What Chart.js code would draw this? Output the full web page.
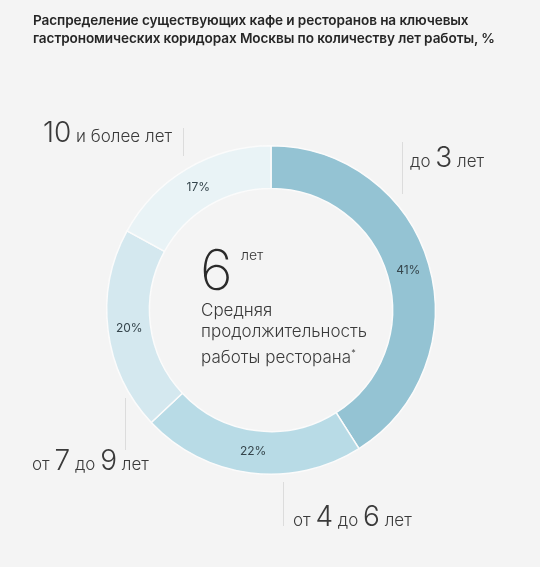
<!DOCTYPE html>
<html lang="ru">
<head>
<meta charset="utf-8">
<script src="https://cdn.jsdelivr.net/npm/chart.js@4"></script>
<style>
    html, body { margin: 0; padding: 0; background: #f4f4f4; }
    body { width: 540px; height: 567px; position: relative; overflow: hidden; font-family: Inter, "Open Sans", sans-serif; color: #333; }
    #wrap { position: absolute; left: 0; top: 0; width: 540px; height: 567px; }
    .title { position: absolute; left: 33px; top: 11px; font-size: 13.6px; font-weight: 600; line-height: 18px; color: #262626; letter-spacing: -0.1px; }
    .lbl { position: absolute; font-weight: 300; font-size: 17px; color: #3a3a3a; white-space: nowrap; }
    .lbl b { font-weight: 300; font-size: 28px; }
    .tick { position: absolute; width: 1px; background: #dcdcdc; }
    .big { position: absolute; left: 200px; top: 242px; font-size: 56px; font-weight: 200; color: #2a2a2a; line-height: 56px; }
    .unit { position: absolute; left: 241px; top: 246px; font-size: 14px; font-weight: 300; color: #333; }
    .sub { position: absolute; left: 201px; top: 300px; font-size: 17px; font-weight: 300; line-height: 21px; color: #3a3a3a; }
</style>
</head>
<body>
<div id="wrap"><canvas id="donut" width="540" height="567"></canvas></div>

<div class="title">Распределение существующих кафе и ресторанов на ключевых<br>гастрономических коридорах Москвы по количеству лет работы, %</div>

<div class="tick" style="left:183px; top:128px; height:28px;"></div>
<div class="lbl" style="left:43px; top:115px;"><b>10</b> и более лет</div>

<div class="tick" style="left:402px; top:142px; height:52px;"></div>
<div class="lbl" style="left:410px; top:140px;">до <b>3</b> лет</div>

<div class="tick" style="left:125px; top:398px; height:52px;"></div>
<div class="lbl" style="left:32px; top:443px;">от <b>7</b> до <b>9</b> лет</div>

<div class="tick" style="left:283px; top:482px; height:44px;"></div>
<div class="lbl" style="left:293px; top:499px;">от <b>4</b> до <b>6</b> лет</div>

<div class="big">6</div>
<div class="unit">лет</div>
<div class="sub">Средняя<br>продолжительность<br>работы ресторана<sup style="font-size:9px">*</sup></div>

<script>
// данные
const categories = ['до 3 лет', 'от 4 до 6 лет', 'от 7 до 9 лет', '10 и более лет'];
const shares = [41, 22, 20, 17];
const sliceColors = ['#94c3d3', '#b8dbe6', '#d4e8ef', '#e9f3f6'];

// подписи процентов внутри кольца
const percentLabels = {
    id: 'percentLabels',
    afterDatasetsDraw(chart) {
        const ctx = chart.ctx;
        const meta = chart.getDatasetMeta(0);
        ctx.save();
        ctx.font = '400 12px Inter, "Open Sans", sans-serif';
        ctx.fillStyle = '#35454c';
        ctx.textAlign = 'center';
        ctx.textBaseline = 'middle';
        meta.data.forEach((arc, i) => {
            const p = arc.tooltipPosition();
            ctx.fillText(shares[i] + '%', p.x, p.y);
        });
        ctx.restore();
    }
};

const ctx = document.getElementById('donut').getContext('2d');
const chart = new Chart(ctx, {
    type: 'doughnut',
    data: {
        labels: categories,
        datasets: [{
            data: shares,
            backgroundColor: sliceColors,
            borderColor: '#fbfbfb',
            borderWidth: 1.5,
            hoverOffset: 0
        }]
    },
    options: {
        responsive: false,
        animation: false,
        cutout: '74%',
        layout: {
            padding: { left: 106, right: 104, top: 145, bottom: 92 }
        },
        plugins: {
            legend: { display: false },
            tooltip: { enabled: false }
        }
    },
    plugins: [percentLabels]
});
</script>
</body>
</html>
